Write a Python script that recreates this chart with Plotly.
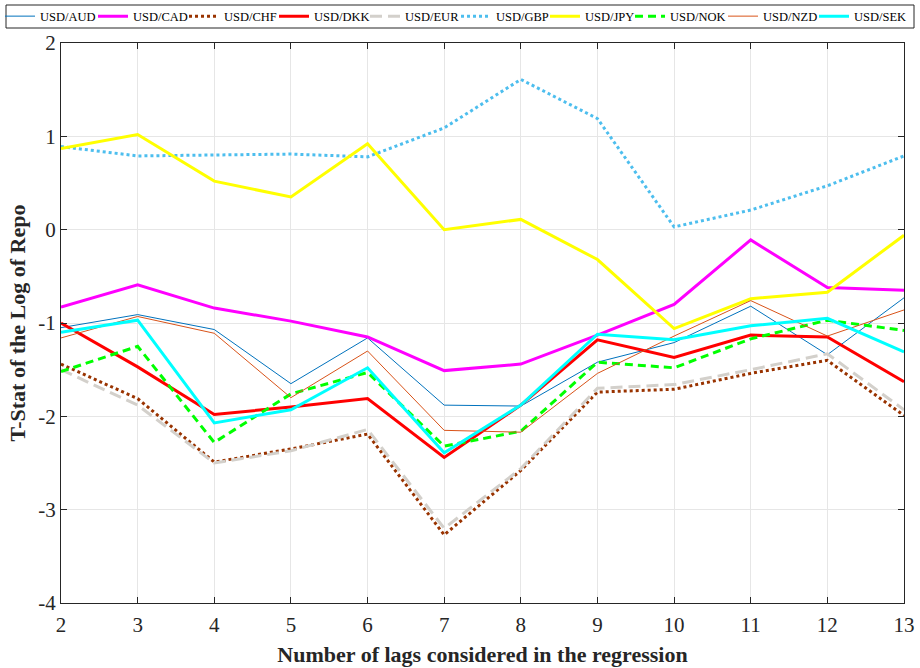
import plotly.graph_objects as go

lags = [2, 3, 4, 5, 6, 7, 8, 9, 10, 11, 12, 13]

usd_aud = [-1.05, -0.91, -1.07, -1.65, -1.16, -1.88, -1.89, -1.42, -1.21, -0.82, -1.34, -0.73]
usd_cad = [-0.83, -0.59, -0.84, -0.98, -1.15, -1.51, -1.44, -1.13, -0.80, -0.11, -0.62, -0.65]
usd_chf = [-1.44, -1.81, -2.49, -2.35, -2.19, -3.27, -2.58, -1.74, -1.71, -1.54, -1.40, -1.99]
usd_dkk = [-1.00, -1.47, -1.98, -1.90, -1.81, -2.44, -1.88, -1.18, -1.37, -1.13, -1.15, -1.63]
usd_eur = [-1.50, -1.88, -2.50, -2.37, -2.14, -3.20, -2.56, -1.70, -1.66, -1.50, -1.33, -1.93]
usd_gbp = [0.89, 0.79, 0.80, 0.81, 0.78, 1.09, 1.61, 1.19, 0.03, 0.21, 0.47, 0.79]
usd_jpy = [0.87, 1.02, 0.52, 0.35, 0.92, 0.00, 0.11, -0.32, -1.06, -0.74, -0.67, -0.06]
usd_nok = [-1.52, -1.25, -2.28, -1.76, -1.53, -2.32, -2.16, -1.42, -1.48, -1.17, -0.97, -1.08]
usd_nzd = [-1.16, -0.93, -1.11, -1.80, -1.30, -2.15, -2.17, -1.54, -1.14, -0.76, -1.14, -0.86]
usd_sek = [-1.10, -0.97, -2.07, -1.93, -1.48, -2.39, -1.88, -1.12, -1.18, -1.03, -0.95, -1.31]

names = ["USD/AUD", "USD/CAD", "USD/CHF", "USD/DKK", "USD/EUR",
         "USD/GBP", "USD/JPY", "USD/NOK", "USD/NZD", "USD/SEK"]
series = [usd_aud, usd_cad, usd_chf, usd_dkk, usd_eur,
          usd_gbp, usd_jpy, usd_nok, usd_nzd, usd_sek]
colors = ["#0072BD", "#FF00FF", "#993300", "#FF0000", "#D3D0CB",
          "#4DBEEE", "#FFFF00", "#00FF00", "#D95319", "#00FFFF"]
widths = [1, 3, 3, 3, 3, 3, 3, 3, 1, 3]
dashes = ["solid", "solid", "dot", "solid", "12px,6px",
          "dot", "solid", "8px,5px", "solid", "solid"]

y_ticks = [2, 1, 0, -1, -2, -3, -4]
y_ticktext = ["2", "1", "0", "-1", "-2", "-3", "-4"]

# legend layout (pixel positions of each legend entry's text start, one row)
W, H = 920, 668
legend_text_x = [39, 132, 223, 313, 404, 495, 584, 669, 762, 853]
legend_center_y = 16.5
font_family = "Liberation Serif"

fig = go.Figure()
legend_layouts = {}
for i, (n, s, c, w, d) in enumerate(zip(names, series, colors, widths, dashes)):
    lid = "legend" if i == 0 else f"legend{i + 1}"
    fig.add_trace(go.Scatter(x=lags, y=s, name=n, mode="lines", legend=lid,
                             line=dict(color=c, width=w, dash=d)))
    legend_layouts[lid] = dict(
        xref="container", yref="container",
        x=(legend_text_x[i] + 1 - 40) / W, xanchor="left",
        y=1 - legend_center_y / H, yanchor="middle",
        orientation="h", borderwidth=0, bgcolor="rgba(0,0,0,0)",
        font=dict(family=font_family, size=12.5, color="#000000"),
    )

axis_common = dict(
    showline=True, linecolor="#262626", linewidth=1, mirror="ticks",
    ticks="inside", ticklen=6, tickcolor="#262626",
    showgrid=True, gridcolor="#E6E6E6", gridwidth=1,
    zeroline=False,
    tickfont=dict(family=font_family, size=21, color="#262626"),
)

fig.update_layout(
    width=W, height=H,
    margin=dict(l=61, r=16, t=43, b=65, autoexpand=False),
    paper_bgcolor="white", plot_bgcolor="white",
    font=dict(family=font_family, color="#262626"),
    xaxis=dict(range=[2, 13], tickvals=lags, ticktext=[str(v) for v in lags],
               ticklabelstandoff=3,
               title=dict(text="<b>Number of lags considered in the regression</b>",
                          font=dict(family=font_family, size=22, color="#262626"),
                          standoff=10),
               **axis_common),
    yaxis=dict(range=[-4, 2], tickvals=y_ticks, ticktext=y_ticktext,
               title=dict(text="<b>T-Stat of the Log of Repo</b>",
                          font=dict(family=font_family, size=22, color="#262626"),
                          standoff=6),
               **axis_common),
    showlegend=True,
    **legend_layouts,
)

# frame around the one-row legend
pw, ph = W - 61 - 16, H - 43 - 65
fig.add_shape(type="rect", xref="paper", yref="paper",
              x0=(6 - 61) / pw, x1=(914 - 61) / pw,
              y0=(603 - 28) / ph, y1=(603 - 5) / ph,
              line=dict(color="#262626", width=1), fillcolor="rgba(0,0,0,0)")

fig.write_html("out.html")
